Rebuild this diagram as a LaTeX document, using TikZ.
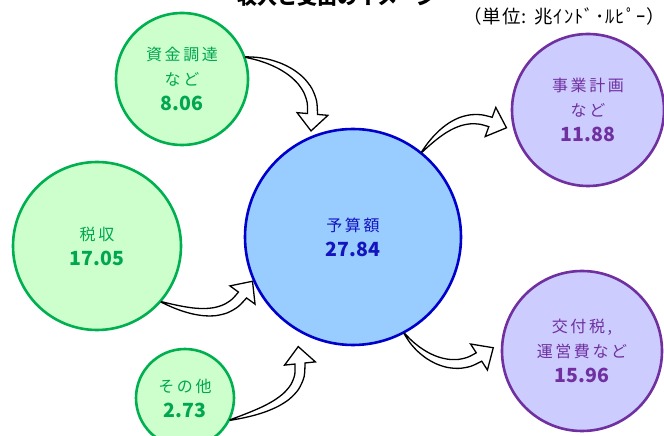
\documentclass[tikz,border=0pt]{standalone}
\usepackage{fontspec}
\usetikzlibrary{decorations.markings}
\newfontfamily\cjk{Noto Sans CJK JP}
\newfontfamily\cjksp[LetterSpace=16]{Noto Sans CJK JP}
\newfontfamily\cjkunit[LetterSpace=6]{Noto Sans CJK JP}
\definecolor{gfill}{HTML}{CCFFCC}
\definecolor{gline}{HTML}{00B050}
\definecolor{gtext}{RGB}{0,166,80}
\definecolor{bfill}{HTML}{99CCFF}
\definecolor{bline}{HTML}{0000CC}
\definecolor{btext}{RGB}{20,20,190}
\definecolor{pfill}{HTML}{CCCCFF}
\definecolor{pline}{HTML}{7030A0}
\definecolor{ptext}{HTML}{7030A0}
\newcommand\numfont{\cjk\bfseries\fontsize{19.5}{25}\selectfont}
\newcommand\lblfont{\cjksp\fontsize{16}{25}\selectfont}
\newcommand\drawtaper[1]{%
  \draw[arrowshape] plot[smooth] coordinates {(#1l0) (#1l1) (#1l2) (#1l3) (#1l4) (#1l5) (#1l6) (#1l7) (#1l8)}
    -- (#1wl) -- (#1tip) -- (#1wr)
    -- plot[smooth] coordinates {(#1r8) (#1r7) (#1r6) (#1r5) (#1r4) (#1r3) (#1r2) (#1r1) (#1r0)} -- cycle;}
\tikzset{
  circbase/.style={circle, line width=2.6pt, align=center, inner sep=0pt, font=\lblfont},
  gcirc/.style={circbase, draw=gline, fill=gfill, text=gtext},
  bcirc/.style={circbase, draw=bline, fill=bfill, text=btext},
  pcirc/.style={circbase, draw=pline, fill=pfill, text=ptext},
  arrowshape/.style={draw=black, fill=white, line width=1.3pt, line join=miter},
  taper/.style={postaction={decorate}, decoration={markings,
    mark=at position 0 with {\coordinate (#1l0) at (0,0.3pt); \coordinate (#1r0) at (0,-0.3pt);},
    mark=at position 0.125 with {\coordinate (#1l1) at (0,1.4pt); \coordinate (#1r1) at (0,-1.4pt);},
    mark=at position 0.25 with {\coordinate (#1l2) at (0,2.3pt); \coordinate (#1r2) at (0,-2.3pt);},
    mark=at position 0.375 with {\coordinate (#1l3) at (0,3.0pt); \coordinate (#1r3) at (0,-3.0pt);},
    mark=at position 0.5 with {\coordinate (#1l4) at (0,3.6pt); \coordinate (#1r4) at (0,-3.6pt);},
    mark=at position 0.625 with {\coordinate (#1l5) at (0,4.1pt); \coordinate (#1r5) at (0,-4.1pt);},
    mark=at position 0.75 with {\coordinate (#1l6) at (0,4.5pt); \coordinate (#1r6) at (0,-4.5pt);},
    mark=at position 0.875 with {\coordinate (#1l7) at (0,4.8pt); \coordinate (#1r7) at (0,-4.8pt);},
    mark=at position 0.9999 with {\coordinate (#1l8) at (0,5.0pt); \coordinate (#1r8) at (0,-5.0pt);
      \coordinate (#1wl) at (0,15.5pt); \coordinate (#1wr) at (0,-15.5pt); \coordinate (#1tip) at (17pt,0);}
  }}
}
\begin{document}
\begin{tikzpicture}[x=1pt,y=1pt]
\useasboundingbox (0,0) rectangle (664,436);
\clip (0,0) rectangle (664,436);
\fill[white] (0,0) rectangle (664,436);
\node[font=\cjk\bfseries\fontsize{20}{24}\selectfont, anchor=base] (title) at (337,431) {収入と支出のイメージ};
\node[font=\cjkunit\fontsize{18.5}{22}\selectfont, anchor=east] (unit) at (669,420) {（単位: 兆ｲﾝﾄﾞ･ﾙﾋﾟｰ）};
% sources
\node[gcirc, minimum size=132pt] (c1) at (182,357) {資金調達\\など\\\numfont 8.06};
\node[gcirc, minimum size=168pt] (c2) at (97,190) {税収\\\numfont 17.05};
\node[gcirc, minimum size=98pt] (c3) at (185,38) {その他\\\numfont 2.73};
% budget
\node[bcirc, minimum size=216pt] (c0) at (353,199) {予算額\\\numfont 27.84};
% uses
\node[pcirc, minimum size=152pt] (d1) at (588,326) {事業計画\\など\\\numfont 11.88};
\node[pcirc, minimum size=160pt] (d2) at (582,85) {交付税,\\運営費など\\\numfont 15.96};
% arrow head bases
\coordinate (h1) at (312.5,322);
\coordinate (h2) at (242.5,141);
\coordinate (h3) at (300,72.5);
\coordinate (h4) at (490.5,314);
\coordinate (h5) at (479,79);
\path[taper=a1] (c1.19) to[out=-5, in=85] (h1);
\drawtaper{a1}
\path[taper=a2] (c2.-41) to[out=-20, in=234] (h2);
\drawtaper{a2}
\path[taper=a3] (c3.-26) to[out=15, in=-84] (h3);
\drawtaper{a3}
\path[taper=a4] (c0.51) to[out=50, in=160] (h4);
\drawtaper{a4}
\path[taper=a5] (c0.-62) to[out=-55, in=213] (h5);
\drawtaper{a5}
\end{tikzpicture}
\end{document}
